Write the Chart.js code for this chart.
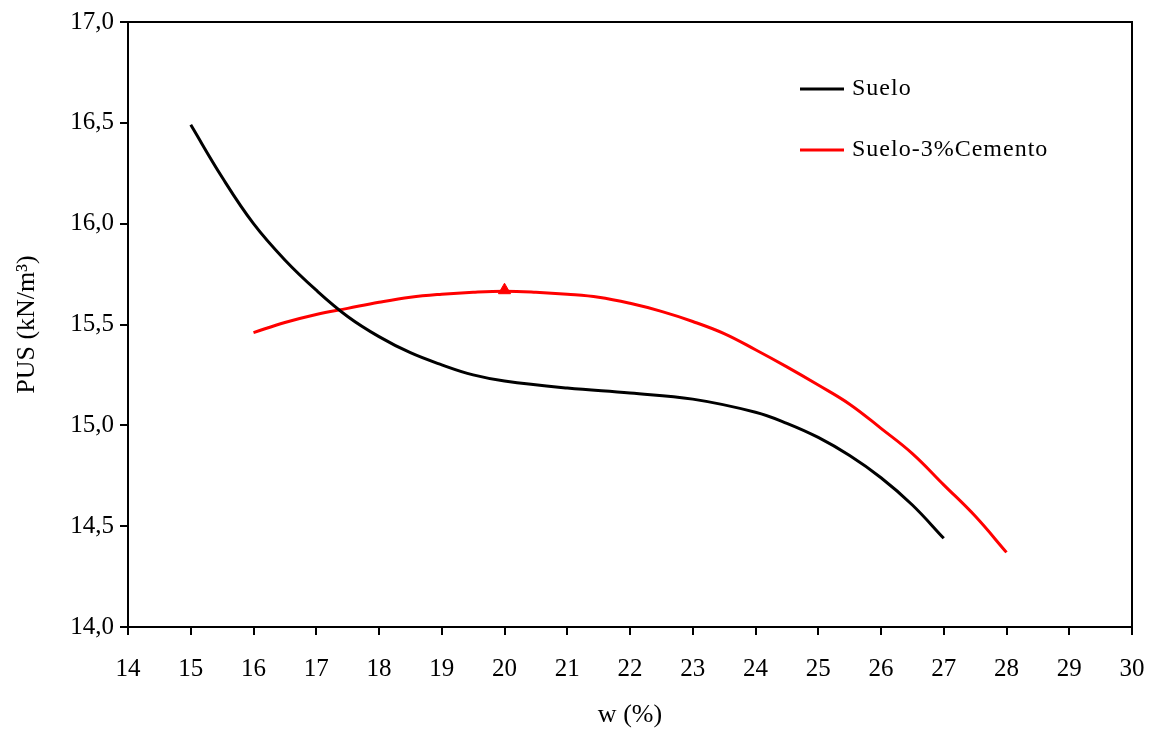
<!DOCTYPE html>
<html>
<head>
<meta charset="utf-8">
<script src="https://cdn.jsdelivr.net/npm/chart.js@4/dist/chart.umd.min.js"></script>
<style>
  html, body { margin: 0; padding: 0; background: #fff; }
  #wrap { width: 1149px; height: 731px; }
</style>
</head>
<body>
<div id="wrap"><canvas id="pus-chart" width="1149" height="731"></canvas></div>
<script>
// Compaction curves: dry unit weight (PUS) vs water content w (%)

// Suelo
const sueloW = [15.0, 15.5, 16.0, 16.5, 17.0, 17.5, 18.0, 18.5, 19.0, 19.5, 20.0, 21.0, 22.0, 23.0, 24.0,
  24.5, 25.0, 25.5, 26.0, 26.5, 27.0];
const sueloPUS = [16.49, 16.23, 16.00, 15.82, 15.67, 15.54, 15.44, 15.36, 15.30, 15.25, 15.22, 15.185, 15.16,
  15.13, 15.065, 15.01, 14.94, 14.85, 14.74, 14.605, 14.44];

// Suelo-3%Cemento
const cementoW = [16.0, 16.5, 17.0, 17.5, 18.0, 18.5, 19.0, 19.5, 20.0, 20.5, 21.0, 21.5, 22.0, 22.5, 23.0,
  23.5, 24.0, 24.5, 25.0, 25.5, 26.0, 26.5, 27.0, 27.5, 28.0];
const cementoPUS = [15.46, 15.51, 15.55, 15.58, 15.61, 15.635, 15.65, 15.66, 15.665, 15.66, 15.65, 15.635,
  15.605, 15.565, 15.515, 15.455, 15.375, 15.29, 15.20, 15.105, 14.985, 14.86, 14.705, 14.55, 14.37];

// Maximum point of the cement curve
const maxW = [20.0];
const maxPUS = [15.67];

const seriesNames = ['Suelo', 'Suelo-3%Cemento'];

const toPoints = (xs, ys) => xs.map((x, i) => ({ x: x, y: ys[i] }));
const serif = '"Liberation Serif", "Times New Roman", serif';

// Draws the frame box around the plot area
const frameBox = {
  id: 'frameBox',
  afterDraw(chart) {
    const a = chart.chartArea;
    const ctx = chart.ctx;
    ctx.save();
    ctx.strokeStyle = '#000';
    ctx.lineWidth = 2;
    ctx.beginPath();
    ctx.moveTo(a.left, a.top);
    ctx.lineTo(a.right, a.top);
    ctx.lineTo(a.right, a.bottom);
    ctx.stroke();
    ctx.restore();
  }
};

// Legend drawn inside the plot, upper right
const innerLegend = {
  id: 'innerLegend',
  afterDraw(chart) {
    const ctx = chart.ctx;
    const rows = [
      { label: seriesNames[0], color: '#000', y: 89 },
      { label: seriesNames[1], color: '#ff0000', y: 150 }
    ];
    ctx.save();
    ctx.font = '24px ' + serif;
    ctx.textBaseline = 'middle';
    rows.forEach(r => {
      ctx.strokeStyle = r.color;
      ctx.lineWidth = 3;
      ctx.beginPath();
      ctx.moveTo(800, r.y);
      ctx.lineTo(844, r.y);
      ctx.stroke();
      ctx.fillStyle = '#000';
      ctx.letterSpacing = '1px';
      ctx.fillText(r.label, 852, r.y);
    });
    ctx.restore();
  }
};

const ctx = document.getElementById('pus-chart').getContext('2d');
new Chart(ctx, {
  type: 'scatter',
  data: {
    datasets: [
      {
        label: seriesNames[0],
        data: toPoints(sueloW, sueloPUS),
        showLine: true,
        borderColor: '#000',
        borderWidth: 3,
        pointRadius: 0,
        tension: 0.4
      },
      {
        label: seriesNames[1],
        data: toPoints(cementoW, cementoPUS),
        showLine: true,
        borderColor: '#ff0000',
        borderWidth: 3,
        pointRadius: 0,
        tension: 0.4
      },
      {
        label: 'max',
        data: toPoints(maxW, maxPUS),
        showLine: false,
        pointStyle: 'triangle',
        pointRadius: 7,
        backgroundColor: '#ff0000',
        borderColor: '#ff0000'
      }
    ]
  },
  options: {
    responsive: false,
    animation: false,
    layout: { padding: { top: 22, right: 17, left: 0, bottom: 0 } },
    plugins: {
      legend: { display: false },
      tooltip: { enabled: false }
    },
    scales: {
      x: {
        type: 'linear',
        min: 14,
        max: 30,
        afterFit: s => { s.height = 104; s.paddingLeft = 0; s.paddingRight = 0; },
        ticks: { stepSize: 1, color: '#000', padding: 19, font: { family: serif, size: 25 } },
        grid: { drawOnChartArea: false, drawTicks: true, tickLength: 8, color: '#000', lineWidth: 2 },
        border: { color: '#000', width: 2 },
        title: { display: true, text: 'w (%)', color: '#000', font: { family: serif, size: 26 }, padding: { top: 0, bottom: 0 } }
      },
      y: {
        type: 'linear',
        min: 14,
        max: 17,
        afterFit: s => { s.width = 128; s.paddingTop = 0; s.paddingBottom = 0; },
        ticks: {
          stepSize: 0.5,
          color: '#000',
          padding: 6,
          font: { family: serif, size: 25 },
          callback: v => v.toFixed(1).replace('.', ',')
        },
        grid: { drawOnChartArea: false, drawTicks: true, tickLength: 8, color: '#000', lineWidth: 2 },
        border: { color: '#000', width: 2 },
        title: { display: true, text: 'PUS (kN/m³)', color: '#000', font: { family: serif, size: 26 }, padding: { top: 12, bottom: 0 } }
      }
    }
  },
  plugins: [frameBox, innerLegend]
});
</script>
</body>
</html>
